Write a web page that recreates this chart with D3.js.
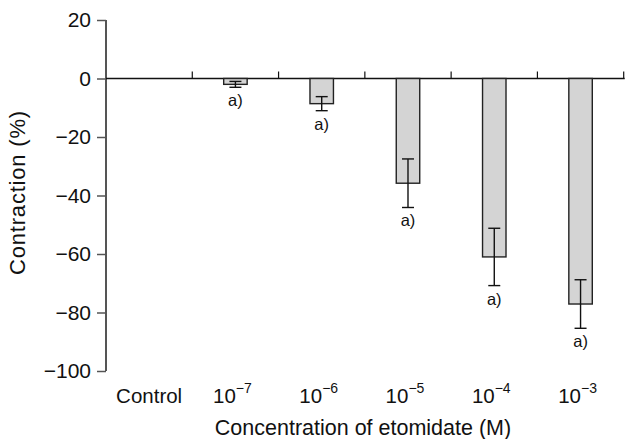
<!DOCTYPE html>
<html>
<head>
<meta charset="utf-8">
<script src="https://cdn.jsdelivr.net/npm/d3@7"></script>
<style>
html,body{margin:0;padding:0;background:#fff;}
svg{display:block;font-family:"Liberation Sans",Arial,Helvetica,sans-serif;}
</style>
</head>
<body>
<svg id="chart" width="625" height="439"></svg>
<script>
const categories = ["Control", "1e-7", "1e-6", "1e-5", "1e-4", "1e-3"];
const tickBase = ["Control", "10", "10", "10", "10", "10"];
const tickExp = ["", "−7", "−6", "−5", "−4", "−3"];
const means = [null, -2.0, -8.6, -35.8, -61.0, -77.1];
const errors = [null, 1.0, 2.4, 8.3, 9.8, 8.3];
const sigLabels = ["", "a)", "a)", "a)", "a)", "a)"];
const yTicks = [20, 0, -20, -40, -60, -80, -100];

const svg = d3.select("#chart");
const mLeft = 106, mRight = 623.7, mTop = 20, mBottom = 371;

const y = d3.scaleLinear().domain([-100, 20]).range([mBottom, mTop]);
const x = d3.scaleBand().domain(categories).range([mLeft, mRight]).padding(0);
const bw = x.bandwidth() * 0.272;

// y axis
const yAxis = svg.append("g").attr("transform", `translate(${mLeft},0)`)
  .call(d3.axisLeft(y).tickValues(yTicks).tickSize(9).tickPadding(6)
    .tickFormat(d => d < 0 ? "−" + Math.abs(d) : String(d)));
yAxis.select(".domain").attr("stroke", "#555").attr("stroke-width", 2).attr("d", `M0,${y(20)}V${y(-100)}`);
yAxis.selectAll(".tick line").attr("stroke", "#555").attr("stroke-width", 1.5);
yAxis.selectAll(".tick text").attr("font-size", 21).attr("fill", "#111")
  .attr("font-family", '"Liberation Sans",Arial,sans-serif');

// zero line with upward ticks at band boundaries
svg.append("line").attr("x1", mLeft).attr("x2", mRight + 1).attr("y1", y(0)).attr("y2", y(0))
  .attr("stroke", "#111").attr("stroke-width", 1.5);
svg.selectAll(".bt").data(categories).enter().append("line")
  .attr("x1", d => x(d) + x.bandwidth()).attr("x2", d => x(d) + x.bandwidth())
  .attr("y1", y(0)).attr("y2", y(0) - 7).attr("stroke", "#111").attr("stroke-width", 1.2);

// bars
const data = categories.map((c, i) => ({c, m: means[i], e: errors[i], s: sigLabels[i]})).filter(d => d.m !== null);
svg.selectAll(".bar").data(data).enter().append("rect")
  .attr("x", d => x(d.c) + x.bandwidth() / 2 - bw / 2)
  .attr("width", bw)
  .attr("y", d => y(0))
  .attr("height", d => y(d.m) - y(0))
  .attr("fill", "#d4d4d4").attr("stroke", "#222").attr("stroke-width", 1.4);

// error bars
const cap = 6;
const eg = svg.selectAll(".err").data(data).enter().append("g");
eg.append("line").attr("x1", d => x(d.c) + x.bandwidth() / 2).attr("x2", d => x(d.c) + x.bandwidth() / 2)
  .attr("y1", d => y(d.m + d.e)).attr("y2", d => y(d.m - d.e)).attr("stroke", "#111").attr("stroke-width", 1.4);
eg.append("line").attr("x1", d => x(d.c) + x.bandwidth() / 2 - cap).attr("x2", d => x(d.c) + x.bandwidth() / 2 + cap)
  .attr("y1", d => y(d.m + d.e)).attr("y2", d => y(d.m + d.e)).attr("stroke", "#111").attr("stroke-width", 1.4);
eg.append("line").attr("x1", d => x(d.c) + x.bandwidth() / 2 - cap).attr("x2", d => x(d.c) + x.bandwidth() / 2 + cap)
  .attr("y1", d => y(d.m - d.e)).attr("y2", d => y(d.m - d.e)).attr("stroke", "#111").attr("stroke-width", 1.4);
eg.append("text").attr("x", d => x(d.c) + x.bandwidth() / 2).attr("y", d => y(d.m - d.e) + 19)
  .attr("text-anchor", "middle").attr("font-size", 16.5).attr("fill", "#111").text(d => d.s);

// x tick labels
const xl = svg.selectAll(".xl").data(categories).enter().append("text")
  .attr("x", (d, i) => x(d) + x.bandwidth() / 2 - (i === 0 ? 0 : 3))
  .attr("y", 403).attr("text-anchor", "middle").attr("font-size", 20.5).attr("fill", "#111");
xl.append("tspan").text((d, i) => tickBase[i]);
xl.append("tspan").attr("dy", -10).attr("font-size", 14).text((d, i) => tickExp[i]);

// axis titles
svg.append("text").attr("x", 363).attr("y", 435).attr("text-anchor", "middle")
  .attr("font-size", 21.5).attr("fill", "#111").text("Concentration of etomidate (M)");
svg.append("text").attr("transform", `translate(25,192.5) rotate(-90)`).attr("text-anchor", "middle")
  .attr("font-size", 22).attr("letter-spacing", 0.8).attr("fill", "#111").text("Contraction (%)");
</script>
</body>
</html>
